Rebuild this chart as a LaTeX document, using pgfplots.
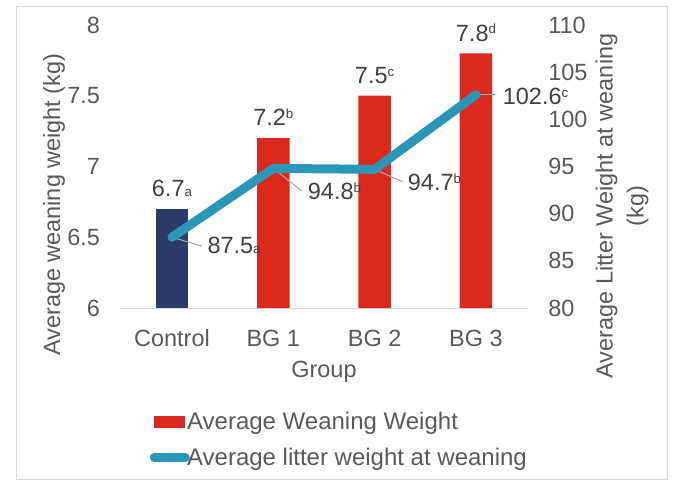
\documentclass[border=0pt]{standalone}
\usepackage{fontspec}
\setmainfont{Liberation Sans}
\usepackage{pgfplots}
\pgfplotsset{compat=1.18}

\definecolor{barnavy}{HTML}{2B3C6A}
\definecolor{barred}{HTML}{DC291E}
\definecolor{lineblue}{HTML}{2C96B9}
\definecolor{ticktext}{HTML}{595959}
\definecolor{labeltext}{HTML}{404040}
\definecolor{axisgray}{HTML}{D9D9D9}
\definecolor{leadergray}{HTML}{A6A6A6}

% small letters after the values
\newcommand{\up}[1]{\raisebox{5.4pt}{\fontsize{10}{12}\selectfont #1}}
\newcommand{\dn}[1]{{\fontsize{10}{12}\selectfont #1}}

\pgfplotsset{
  common/.style={
    scale only axis,
    width=303.98pt, height=212.25pt,
    at={(90.975pt,133.5pt)}, anchor=south west,
    xmin=-0.5, xmax=3.5,
    clip=false,
    font=\fontsize{17.6}{21}\selectfont,
    /pgf/number format/assume math mode=true,
    major tick length=0pt,
    tick style={draw=none},
    tick label style={text=ticktext, inner sep=0pt},
    label style={text=ticktext},
  },
}

\begin{document}
\begin{tikzpicture}
  \path (0pt,0pt) rectangle (510.75pt,364.5pt);
  \draw[axisgray, line width=0.75pt] (12.5pt,5.25pt) rectangle (500.8pt,359.25pt);

  \begin{axis}[common,
    axis x line*=bottom, axis y line*=left,
    x axis line style={draw=axisgray, line width=0.75pt},
    y axis line style={draw=none},
    ymin=6, ymax=8, ytick={6,6.5,7,7.5,8},
    yticklabel style={anchor=east, xshift=-15.75pt},
    xtick={0,1,2,3}, xticklabels={Control,BG 1,BG 2,BG 3},
    xticklabel style={anchor=base, yshift=-28.5pt},
    ylabel={Average weaning weight (kg)},
    ylabel style={at={(axis description cs:-0.1512,0.365)}, anchor=base},
    xlabel={Group},
    xlabel style={at={(axis description cs:0.5,-0.2438)}, anchor=base},
    ybar, bar width=24.4pt, bar shift=0pt,
    nodes near coords, point meta=explicit symbolic,
    every node near coord/.append style={anchor=base, inner sep=0pt, yshift=9.2pt, text=labeltext},
    legend style={draw=none, fill=none, at={(axis description cs:0.0696,-0.368)},
      anchor=north west, inner sep=0pt, row sep=12pt, column sep=-2pt,
      font=\fontsize{18}{21}\selectfont,
      cells={anchor=west}, nodes={inner sep=0pt, text=ticktext}},
  ]
    \addplot[fill=barred, draw=none,
      legend image code/.code={
        \path[draw=none, fill=none] (0pt,-4.76pt) rectangle (29.625pt,4.76pt);
        \fill[barred, draw=none] (3.375pt,-4.76pt) rectangle (26.625pt,4.76pt);}]
      coordinates {(1,7.2) [7.2\up{b}] (2,7.5) [7.5\up{c}] (3,7.8) [7.8\up{d}]};
    \addlegendentry{Average Weaning Weight}
    \addplot[fill=barnavy, draw=none, forget plot]
      coordinates {(0,6.7) [6.7\dn{a}]};
    \addlegendimage{draw=none, fill=none, legend image code/.code={
        \path[draw=none, fill=none] (0pt,-4.76pt) rectangle (29.625pt,4.76pt);
        \draw[lineblue, fill=none, line width=6.75pt, line cap=round] (3.375pt,0pt) -- (26.625pt,0pt);}}
    \addlegendentry{Average litter weight at weaning}
  \end{axis}

  \begin{axis}[common,
    axis x line=none, axis y line*=right,
    y axis line style={draw=none},
    ymin=80, ymax=110, ytick={80,85,90,95,100,105,110},
    yticklabel style={anchor=west, xshift=16.1pt},
    ylabel={Average Litter Weight at weaning\\(kg)},
    ylabel style={align=center, font=\fontsize{17.6}{23.25}\selectfont,
      at={(axis description cs:1.2354,0.3604)}, anchor=center},
  ]
    % leader lines
    \addplot[leadergray, line width=0.75pt, forget plot] coordinates {(0,87.5) (0.2933,86.57)};
    \addplot[leadergray, line width=0.75pt, forget plot] coordinates {(1,94.8) (1.280,92.43)};
    \addplot[leadergray, line width=0.75pt, forget plot] coordinates {(2,94.7) (2.2766,93.39)};
    \addplot[leadergray, line width=0.75pt, forget plot] coordinates {(3,102.6) (3.187,102.6)};
    % litter weight
    \addplot[lineblue, line width=6.75pt, line cap=round, line join=round, forget plot]
      coordinates {(0,87.5) (1,94.8) (2,94.7) (3,102.6)};
    % value labels of the line
    \addplot[draw=none, forget plot, nodes near coords, point meta=explicit symbolic,
      every node near coord/.append style={anchor=base west, inner sep=0pt, text=labeltext}]
      coordinates {(0.3486,85.80) [87.5\dn{a}] (1.3392,91.52) [94.8\up{b}]
                   (2.3259,92.43) [94.7\up{b}] (3.2632,101.59) [102.6\up{c}]};
  \end{axis}
\end{tikzpicture}
\end{document}
